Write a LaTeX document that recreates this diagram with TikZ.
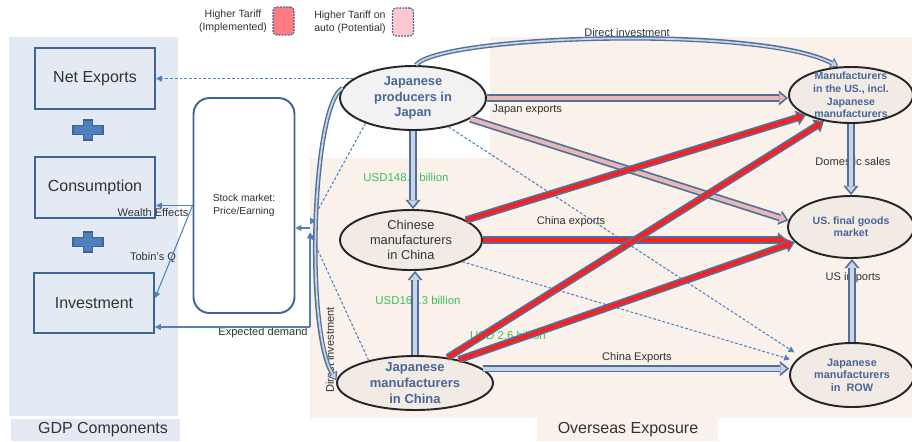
\documentclass[tikz,border=0pt]{standalone}
\usepackage{fontspec}
\setmainfont{Liberation Sans}
\usetikzlibrary{arrows.meta,shapes.geometric,calc}

\definecolor{gdpbg}{RGB}{228,234,244}
\definecolor{seabg}{RGB}{250,241,234}
\definecolor{boxblue}{RGB}{62,100,150}
\definecolor{plusblue}{RGB}{79,129,189}
\definecolor{linkblue}{RGB}{79,129,189}
\definecolor{edge}{RGB}{84,112,152}
\definecolor{paleblue}{RGB}{198,213,234}
\definecolor{palepink}{RGB}{230,185,184}
\definecolor{hotred}{RGB}{255,30,30}
\definecolor{tariffred}{RGB}{255,124,128}
\definecolor{tariffpink}{RGB}{255,199,206}
\definecolor{ovalgray}{RGB}{242,242,242}
\definecolor{ovalbeige}{RGB}{242,235,229}
\definecolor{ovaltext}{RGB}{72,102,150}
\definecolor{darktext}{RGB}{50,50,50}
\definecolor{usdgreen}{RGB}{60,192,90}

% block arrows: outline first, then the fill on top
\def\fatpath[#1]#2;{\draw[fatout] #2; \draw[fatin=#1] #2;}
\def\slimpath[#1]#2;{\draw[slimout] #2; \draw[slimin=#1] #2;}
\def\plusmark(#1){\draw[plusstyle, shift={(#1)}] (-15,-4.5) -- (-4.5,-4.5) -- (-4.5,-10) -- (4.5,-10) -- (4.5,-4.5) -- (15,-4.5) -- (15,4.5) -- (4.5,4.5) -- (4.5,10) -- (-4.5,10) -- (-4.5,4.5) -- (-15,4.5) -- cycle;}

\tikzset{
	fatout/.style={line width=4.2pt, draw=edge, -{Triangle[length=5.2pt,width=8.6pt,line width=0pt]}},
	fatin/.style={line width=2.2pt, draw=#1, shorten >=1.5pt, -{Triangle[length=3.5pt,width=5.6pt,line width=0pt,color=#1]}},
	slimout/.style={line width=2.6pt, draw=edge, -{Triangle[length=4.4pt,width=6.6pt,line width=0pt]}},
	slimin/.style={line width=1pt, draw=#1, shorten >=1.1pt, -{Triangle[length=2.8pt,width=4pt,line width=0pt,color=#1]}},
	link/.style={draw=linkblue, line width=0.6pt, -{Triangle[length=3.4pt,width=3.4pt]}},
	dlink/.style={link, dash pattern=on 1.6pt off 1.1pt},
	plusstyle/.style={fill=plusblue, draw=boxblue, line width=0.8pt},
	lbl/.style={font=\fontsize{6.3}{7.5}\selectfont, text=darktext, inner sep=0pt},
	usd/.style={font=\fontsize{6.5}{7.5}\selectfont, text=usdgreen, inner sep=0pt},
	legtext/.style={font=\fontsize{6}{7.4}\selectfont, text=darktext, inner sep=0pt},
	legbox/.style={draw=boxblue, line width=0.6pt, dash pattern=on 1pt off 0.7pt, rounded corners=2pt, minimum width=0.42cm, minimum height=0.56cm},
	panelname/.style={font=\fontsize{9.1}{11}\selectfont, text=darktext},
	box/.style={draw=boxblue, line width=1.1pt, minimum width=2.4cm, minimum height=1.22cm, font=\fontsize{9.1}{11}\selectfont, text=darktext},
	oval/.style={ellipse, draw=black!85, line width=1.1pt, fill=ovalbeige, inner sep=-4pt, align=center, text=ovaltext},
}

\begin{document}
\begin{tikzpicture}[x=0.02cm, y=-0.02cm]
		\useasboundingbox (0,0) rectangle (912,441);
		
		%%%%% PANELS %%%%%
		\fill[gdpbg] (9,37) rectangle (178,416);
		\fill[gdpbg] (11,419) rectangle (180,441);
		\fill[seabg] (490,37) -- (912,37) -- (912,418) -- (310,418) -- (310,158) -- (490,158) -- cycle;
		\fill[seabg] (537,418) rectangle (718,441);
		\node[panelname] (gdpname) at (103,430) {GDP Components};
		\node[panelname] (seaname) at (628,430) {Overseas Exposure};
		
		%%%%% LEGEND %%%%%
		\node[legtext, align=center] (impltext) at (233,21) {Higher Tariff\\(Implemented)};
		\node[legbox, fill=tariffred] (implbox) at (283.5,21) {};
		\node[legtext, align=left] (autotext) at (350,22) {Higher Tariff on\\auto (Potential)};
		\node[legbox, fill=tariffpink] (autobox) at (403,22) {};
		
		%%%%% GDP COMPONENTS %%%%%
		\node[box] (netexp) at (95,78.5) {Net Exports};
		\node[box] (cons) at (95,187.5) {Consumption};
		\node[box, minimum height=1.2cm] (inv) at (94,303) {Investment};
		\plusmark(88,130)
		\plusmark(88,242)
		
		\node[draw=boxblue, line width=1.1pt, fill=white, rounded corners=0.32cm, minimum width=2.02cm, minimum height=4.3cm, align=center, font=\fontsize{5.8}{7.2}\selectfont, text=darktext] (stock) at (244,205.5) {Stock market:\\Price/Earning};
		
		%%%%% PRODUCERS %%%%%
		\node[oval, fill=ovalgray, minimum width=2.92cm, minimum height=1.28cm, font=\fontsize{7.3}{8.6}\selectfont\bfseries] (jpprod) at (413,98) {Japanese\\producers in\\Japan};
		\node[oval, minimum width=2.84cm, minimum height=1.2cm, font=\fontsize{7.3}{8.5}\selectfont, text=darktext] (cnmfg) at (411,240) {Chinese\\manufacturers\\in China};
		\node[oval, minimum width=3.12cm, minimum height=1.08cm, font=\fontsize{7.4}{9}\selectfont\bfseries] (jpcn) at (415,383) {Japanese\\manufacturers\\in China};
		\node[oval, minimum width=2.48cm, minimum height=1.12cm, font=\fontsize{6}{7.2}\selectfont\bfseries] (usmfg) at (851,95) {Manufacturers\\in the US., incl.\\Japanese\\manufacturers};
		\node[oval, minimum width=2.52cm, minimum height=1.24cm, font=\fontsize{6}{6.9}\selectfont\bfseries] (usfinal) at (851,227) {US. final goods\\market};
		\node[oval, minimum width=2.48cm, minimum height=1.28cm, font=\fontsize{6.2}{7.1}\selectfont\bfseries] (row) at (852,375) {Japanese\\manufacturers\\in \ ROW};
		
		%%%%% LABELS %%%%%
		\node[lbl] at (627,33) {Direct investment};
		\node[lbl, anchor=west] at (492,110) {Japan exports};
		\node[lbl] at (571,222) {China exports};
		\node[lbl] at (637,358) {China Exports};
		\node[lbl] at (853,162) {Domestic sales};
		\node[lbl] at (853,278) {US imports};
		\node[lbl, rotate=90] at (330,350) {Direct investment};
		\node[lbl] at (153,213) {Wealth Effects};
		\node[lbl] at (153,258) {Tobin's Q};
		\node[lbl] at (263,333) {Expected demand};
		\node[usd] at (406,177) {USD148.9 billion};
		\node[usd] at (418,300) {USD160.3 billion};
		\node[usd] at (508,335) {USD 2.6 billion};
		
		%%%%% CHANNELS TO GDP %%%%%
		\coordinate (hub) at (310,228);
		\coordinate (edcorner) at (310,327);
		\draw[dlink] (jpprod.162) -- (jpprod.162 -| netexp.east);
		\draw[link] (stock.west) -- (stock.west -| cons.east);
		\draw[link] (stock.west) -- ([yshift=2.8pt]inv.east);
		\draw[link] (hub) -- (hub -| stock.east);
		\draw[link] (edcorner) -- (edcorner -| inv.east);
		\draw[link] (edcorner) -- ([yshift=-2.5pt]hub);
		\draw[dlink] (jpprod.208) -- ([yshift=2pt]hub);
		\draw[dlink] (jpcn.154) -- ([yshift=-3pt]hub);
		\draw[dlink, shorten >=4pt] (jpprod.321) -- (row.160);
		\draw[dlink, shorten >=3pt] (cnmfg.337) -- (row.166);
		
		%%%%% DIRECT INVESTMENT %%%%%
		\slimpath[paleblue] (jpprod.85) .. controls (440,35) and (760,25) .. (usmfg.114);
		\slimpath[paleblue] (jpprod.172) .. controls (312,105) and (305,330) .. (jpcn.178);
		
		%%%%% TRADE FLOWS %%%%%
		\fatpath[paleblue] (jpprod.south) -- (jpprod.south |- cnmfg.north);
		\fatpath[paleblue] (jpcn.north) -- (jpcn.north |- cnmfg.south);
		\fatpath[paleblue] (usmfg.south) -- (usmfg.south |- usfinal.north);
		\fatpath[paleblue] (row.north) -- (row.north |- usfinal.south);
		\fatpath[paleblue] (jpcn.12) -- (jpcn.12 -| row.west);
		\fatpath[palepink] (jpprod.east) -- (jpprod.east -| usmfg.west);
		\fatpath[palepink] (jpprod.340) -- (usfinal.174);
		\fatpath[hotred] (cnmfg.20) -- (usmfg.204);
		\fatpath[hotred] (cnmfg.east) -- (cnmfg.east -| usfinal.west);
		\fatpath[hotred] (jpcn.38) -- (usmfg.224);
		\fatpath[hotred] (jpcn.28) -- (usfinal.195);
		
\end{tikzpicture}
\end{document}
